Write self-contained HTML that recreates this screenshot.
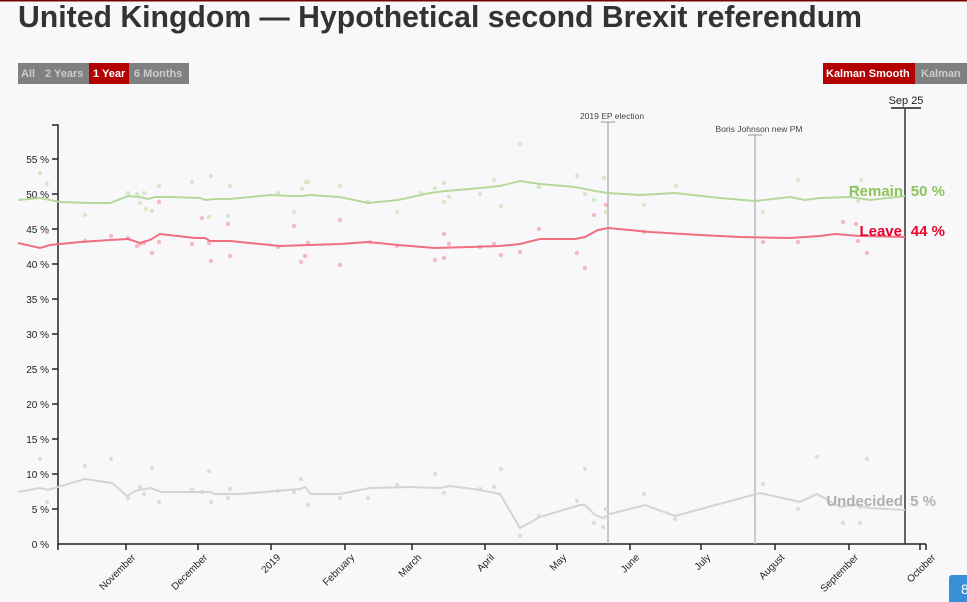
<!DOCTYPE html>
<html><head><meta charset="utf-8"><style>
html,body{margin:0;padding:0;background:#f8f8fb;}
svg{display:block;font-family:"Liberation Sans",sans-serif;}
</style></head><body>
<svg width="967" height="602" viewBox="0 0 967 602" xmlns="http://www.w3.org/2000/svg">
<rect width="967" height="602" fill="#f8f8fb"/>
<rect x="0" y="0" width="967" height="1.5" fill="#7a0000"/>
<text x="18" y="27" font-size="31" font-weight="bold" fill="#333" textLength="844" lengthAdjust="spacingAndGlyphs">United Kingdom — Hypothetical second Brexit referendum</text>

<rect x="18" y="63" width="71" height="21" fill="#808080"/>
<rect x="89" y="63" width="40" height="21" fill="#b30000"/>
<rect x="129" y="63" width="60" height="21" fill="#808080"/>
<g font-size="11" font-weight="bold">
<text x="21" y="77" fill="#ccc">All</text>
<text x="45" y="77" fill="#ccc">2 Years</text>
<text x="93" y="77" fill="#fff">1 Year</text>
<text x="134" y="77" fill="#ccc">6 Months</text>
</g>
<rect x="823" y="63" width="92" height="21" fill="#b30000"/>
<rect x="915" y="63" width="52" height="21" fill="#808080"/>
<g font-size="11" font-weight="bold">
<text x="826" y="77" fill="#fff">Kalman Smooth</text>
<text x="921" y="77" fill="#ccc">Kalman</text>
</g>

<g stroke="#222" stroke-width="1.5" fill="none">
<path d="M52,125H58V544H926"/>
<path d="M52,159H58M52,194H58M52,229H58M52,264H58M52,299H58M52,334H58M52,369H58M52,404H58M52,439H58M52,474H58M52,509H58"/>
<path d="M126,544v6M198,544v6M271,544v6M345,544v6M412,544v6M485,544v6M557,544v6M630,544v6M701,544v6M775,544v6M849,544v6M920,544v6M926,544v6M58,544v6"/>
</g>
<g font-size="10" fill="#222" text-anchor="end">
<text x="49" y="163">55 %</text><text x="49" y="198">50 %</text><text x="49" y="233">45 %</text>
<text x="49" y="268">40 %</text><text x="49" y="303">35 %</text><text x="49" y="338">30 %</text>
<text x="49" y="373">25 %</text><text x="49" y="408">20 %</text><text x="49" y="443">15 %</text>
<text x="49" y="478">10 %</text><text x="49" y="513">5 %</text><text x="49" y="548">0 %</text>
</g>
<g font-size="10" fill="#222" text-anchor="end">
<text transform="translate(136,558) rotate(-45)">November</text>
<text transform="translate(208,558) rotate(-45)">December</text>
<text transform="translate(281,558) rotate(-45)">2019</text>
<text transform="translate(355,558) rotate(-45)">February</text>
<text transform="translate(422,558) rotate(-45)">March</text>
<text transform="translate(495,558) rotate(-45)">April</text>
<text transform="translate(567,558) rotate(-45)">May</text>
<text transform="translate(640,558) rotate(-45)">June</text>
<text transform="translate(711,558) rotate(-45)">July</text>
<text transform="translate(785,558) rotate(-45)">August</text>
<text transform="translate(859,558) rotate(-45)">September</text>
<text transform="translate(936,558) rotate(-45)">October</text>
</g>

<g stroke="#999" stroke-width="1">
<path d="M608,122V544"/><path d="M601,122h14"/>
<path d="M755,135V544" stroke="#bbb" stroke-width="1.5"/><path d="M748,135h14"/>
</g>
<g font-size="8.5" fill="#444" text-anchor="middle">
<text x="612" y="119">2019 EP election</text>
<text x="759" y="132">Boris Johnson new PM</text>
</g>
<path d="M905,108V544" stroke="#333" stroke-width="1.5"/>
<path d="M891,108h30" stroke="#555" stroke-width="2"/>
<text x="906" y="104" font-size="11" fill="#222" text-anchor="middle">Sep 25</text>

<g fill="#c8e2b0" opacity="0.7">
<circle cx="40" cy="173" r="2.2"/><circle cx="47" cy="184" r="2.2"/><circle cx="85" cy="215" r="2.2"/><circle cx="128" cy="193" r="2.2"/><circle cx="137" cy="194" r="2.2"/><circle cx="144" cy="193" r="2.2"/><circle cx="140" cy="203" r="2.2"/><circle cx="146" cy="209" r="2.2"/><circle cx="152" cy="211" r="2.2"/><circle cx="159" cy="186" r="2.2"/><circle cx="192" cy="182" r="2.2"/><circle cx="209" cy="217" r="2.2"/><circle cx="211" cy="176" r="2.2"/><circle cx="230" cy="186" r="2.2"/><circle cx="228" cy="216" r="2.2"/><circle cx="278" cy="193" r="2.2"/><circle cx="294" cy="212" r="2.2"/><circle cx="302" cy="189" r="2.2"/><circle cx="306" cy="182" r="2.2"/><circle cx="308" cy="182" r="2.2"/><circle cx="340" cy="186" r="2.2"/><circle cx="368" cy="202" r="2.2"/><circle cx="397" cy="212" r="2.2"/><circle cx="421" cy="193" r="2.2"/><circle cx="435" cy="188" r="2.2"/><circle cx="444" cy="183" r="2.2"/><circle cx="444" cy="202" r="2.2"/><circle cx="449" cy="197" r="2.2"/><circle cx="480" cy="194" r="2.2"/><circle cx="494" cy="180" r="2.2"/><circle cx="501" cy="206" r="2.2"/><circle cx="520" cy="144" r="2.2"/><circle cx="539" cy="187" r="2.2"/><circle cx="577" cy="176" r="2.2"/><circle cx="585" cy="194" r="2.2"/><circle cx="594" cy="200" r="2.2"/><circle cx="604" cy="178" r="2.2"/><circle cx="606" cy="212" r="2.2"/><circle cx="644" cy="205" r="2.2"/><circle cx="676" cy="186" r="2.2"/><circle cx="763" cy="212" r="2.2"/><circle cx="798" cy="180" r="2.2"/><circle cx="856" cy="187" r="2.2"/><circle cx="861" cy="180" r="2.2"/><circle cx="858" cy="201" r="2.2"/>
</g>
<g fill="#f2a0ac" opacity="0.7">
<circle cx="47" cy="232" r="2.2"/><circle cx="85" cy="241" r="2.2"/><circle cx="111" cy="236" r="2.2"/><circle cx="128" cy="238" r="2.2"/><circle cx="137" cy="246" r="2.2"/><circle cx="144" cy="243" r="2.2"/><circle cx="140" cy="244" r="2.2"/><circle cx="152" cy="253" r="2.2"/><circle cx="159" cy="242" r="2.2"/><circle cx="159" cy="202" r="2.2"/><circle cx="192" cy="244" r="2.2"/><circle cx="202" cy="218" r="2.2"/><circle cx="209" cy="243" r="2.2"/><circle cx="211" cy="261" r="2.2"/><circle cx="228" cy="224" r="2.2"/><circle cx="230" cy="256" r="2.2"/><circle cx="278" cy="247" r="2.2"/><circle cx="294" cy="226" r="2.2"/><circle cx="301" cy="262" r="2.2"/><circle cx="305" cy="256" r="2.2"/><circle cx="308" cy="243" r="2.2"/><circle cx="340" cy="220" r="2.2"/><circle cx="340" cy="265" r="2.2"/><circle cx="370" cy="242" r="2.2"/><circle cx="397" cy="246" r="2.2"/><circle cx="435" cy="260" r="2.2"/><circle cx="444" cy="234" r="2.2"/><circle cx="449" cy="244" r="2.2"/><circle cx="444" cy="258" r="2.2"/><circle cx="480" cy="247" r="2.2"/><circle cx="494" cy="244" r="2.2"/><circle cx="501" cy="255" r="2.2"/><circle cx="520" cy="252" r="2.2"/><circle cx="539" cy="229" r="2.2"/><circle cx="577" cy="253" r="2.2"/><circle cx="585" cy="268" r="2.2"/><circle cx="594" cy="215" r="2.2"/><circle cx="606" cy="205" r="2.2"/><circle cx="644" cy="232" r="2.2"/><circle cx="763" cy="242" r="2.2"/><circle cx="798" cy="242" r="2.2"/><circle cx="843" cy="222" r="2.2"/><circle cx="856" cy="224" r="2.2"/><circle cx="858" cy="241" r="2.2"/><circle cx="867" cy="253" r="2.2"/>
</g>
<g fill="#ddd">
<circle cx="40" cy="459" r="2.2"/><circle cx="47" cy="502" r="2.2"/><circle cx="85" cy="466" r="2.2"/><circle cx="111" cy="459" r="2.2"/><circle cx="128" cy="498" r="2.2"/><circle cx="140" cy="487" r="2.2"/><circle cx="144" cy="494" r="2.2"/><circle cx="152" cy="468" r="2.2"/><circle cx="159" cy="502" r="2.2"/><circle cx="192" cy="490" r="2.2"/><circle cx="202" cy="492" r="2.2"/><circle cx="209" cy="471" r="2.2"/><circle cx="211" cy="502" r="2.2"/><circle cx="228" cy="498" r="2.2"/><circle cx="230" cy="489" r="2.2"/><circle cx="278" cy="491" r="2.2"/><circle cx="294" cy="492" r="2.2"/><circle cx="301" cy="479" r="2.2"/><circle cx="308" cy="505" r="2.2"/><circle cx="340" cy="498" r="2.2"/><circle cx="368" cy="498" r="2.2"/><circle cx="397" cy="485" r="2.2"/><circle cx="435" cy="474" r="2.2"/><circle cx="444" cy="493" r="2.2"/><circle cx="480" cy="489" r="2.2"/><circle cx="501" cy="469" r="2.2"/><circle cx="494" cy="487" r="2.2"/><circle cx="520" cy="536" r="2.2"/><circle cx="539" cy="516" r="2.2"/><circle cx="577" cy="501" r="2.2"/><circle cx="585" cy="469" r="2.2"/><circle cx="594" cy="523" r="2.2"/><circle cx="603" cy="527" r="2.2"/><circle cx="606" cy="509" r="2.2"/><circle cx="644" cy="494" r="2.2"/><circle cx="675" cy="519" r="2.2"/><circle cx="763" cy="484" r="2.2"/><circle cx="798" cy="509" r="2.2"/><circle cx="817" cy="457" r="2.2"/><circle cx="843" cy="523" r="2.2"/><circle cx="860" cy="523" r="2.2"/><circle cx="860" cy="507" r="2.2"/><circle cx="867" cy="459" r="2.2"/>
</g>

<polyline fill="none" stroke="#b5d99a" stroke-width="2" points="18,200 40,198 60,202 90,203 110,203 128,196 140,197 148,199 155,197 170,197 200,198 205,200 215,199 230,199 270,195 290,196 303,196 310,195 340,197 368,203 398,200 430,193 445,191 470,189 500,186 520,181 540,184 575,187 595,191 608,193 640,195 675,193 720,198 755,201 790,197 805,200 820,198 850,197 870,200 905,196"/>
<polyline fill="none" stroke="#f07080" stroke-width="2" points="18,243 40,248 50,245 80,242 110,240 128,239 140,243 150,240 160,234 195,238 205,238 210,241 230,241 280,246 310,245 340,244 368,242 398,245 435,248 470,247 500,246 520,244 540,239 575,239 585,237 598,230 608,228 650,232 700,235 740,237 790,238 820,236 835,234 860,236 905,237"/>
<polyline fill="none" stroke="#d4d4d4" stroke-width="2" points="18,492 40,488 48,490 85,479 112,483 127,496 135,491 150,488 162,492 210,492 215,494 240,494 300,489 305,487 311,494 340,494 370,488 410,487 440,488 450,486 480,490 500,494 520,528 540,517 580,505 585,505 595,515 603,518 610,514 645,505 675,516 760,493 800,502 817,494 840,507 855,505 870,508 905,510"/>

<g font-size="15" font-weight="bold">
<text x="903" y="196" fill="#8dc35a" text-anchor="end">Remain</text>
<text x="945" y="196" fill="#8dc35a" text-anchor="end">50 %</text>
<text x="902" y="236" fill="#e8002d" text-anchor="end">Leave</text>
<text x="945" y="236" fill="#e8002d" text-anchor="end">44 %</text>
<text x="903" y="506" fill="#b0b0b0" text-anchor="end">Undecided</text>
<text x="936" y="506" fill="#b0b0b0" text-anchor="end">5 %</text>
</g>

<rect x="949" y="575" width="20" height="30" rx="3" fill="#3a8fd9"/>
<text x="961" y="594" font-size="14" fill="#fff">8</text>
</svg>
</body></html>
